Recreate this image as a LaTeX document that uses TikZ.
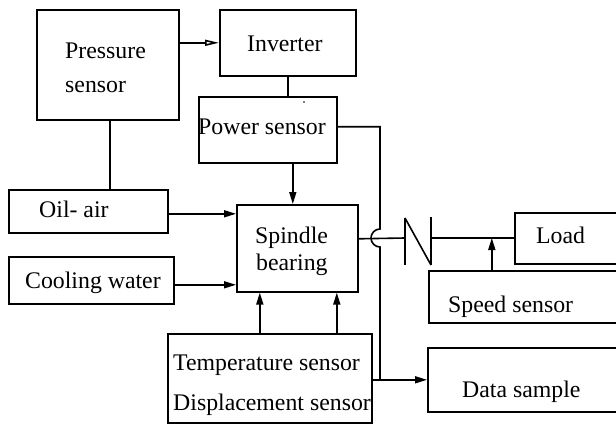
\documentclass[tikz,border=0pt]{standalone}
\usepackage{fontspec}
\setmainfont{Liberation Serif}
\usetikzlibrary{arrows.meta,calc}
\begin{document}
\begin{tikzpicture}[x=1pt,y=-1pt,
  box/.style={draw, line width=1.6pt, inner sep=0pt, anchor=north west},
  lbl/.style={inner sep=0pt, anchor=base west, font=\fontsize{23.8}{28}\selectfont},
  ln/.style={line width=1.6pt},
  arr/.style={ln, -{Triangle[length=12pt,width=7pt]}},
  oarr/.style={ln, -{Triangle[open,length=14pt,width=6pt]}}]
\clip (0,0) rectangle (616,425);
\fill[white] (0,0) rectangle (616,425);
% boxes
\node[box, minimum width=142pt, minimum height=110pt] (ps) at (36,9) {};
\node[box, minimum width=136pt, minimum height=66pt] (inv) at (219,9) {};
\node[box, minimum width=138pt, minimum height=66pt] (pow) at (198,96) {};
\node[box, minimum width=159pt, minimum height=43pt] (oil) at (8,189) {};
\node[box, minimum width=165pt, minimum height=47pt] (cool) at (8,256) {};
\node[box, minimum width=121pt, minimum height=87pt] (sp) at (236,204) {};
\node[box, minimum width=204pt, minimum height=89pt] (temp) at (167,333) {};
\node[box, minimum width=110pt, minimum height=51pt] (load) at (514,212) {};
\node[box, minimum width=196pt, minimum height=52pt] (speed) at (428,270) {};
\node[box, minimum width=197pt, minimum height=64pt] (data) at (427,347) {};
% texts
\node[lbl] (tps1) at (65,59) {Pressure};
\node[lbl] (tps2) at (65,93) {sensor};
\node[lbl] (tinv) at (247,52) {Inverter};
\node[lbl] (tpow) at (198,135) {Power sensor};
\node[lbl] (toil) at (39,217) {Oil- air};
\node[lbl] (tcool) at (25,288) {Cooling water};
\node[lbl] (tsp1) at (255,243) {Spindle};
\node[lbl] (tsp2) at (256,270) {bearing};
\node[lbl] (ttemp1) at (173,370) {Temperature sensor};
\node[lbl] (ttemp2) at (173,410) {Displacement sensor};
\node[lbl] (tload) at (536,243) {Load};
\node[lbl] (tspeed) at (448,312) {Speed sensor};
\node[lbl] (tdata) at (462,397) {Data sample};
\fill (304,102) circle (0.9pt);
% coordinates
\coordinate (hopT) at (380,229);
\coordinate (cLt) at (405,218);
\coordinate (cLb) at (405,265);
\coordinate (cL) at (405,238);
\coordinate (cRt) at (431,217);
\coordinate (cRb) at (431,265);
\coordinate (cR) at (431,238);
% connectors
\draw[oarr] (ps.east |- inv.west) -- (inv.west);
\draw[ln] (inv.south) -- (inv.south |- pow.north);
\draw[ln] ([xshift=2pt]ps.south) -- ([xshift=2pt]ps.south |- oil.north);
\draw[arr] ([xshift=-4.5pt]sp.north |- pow.south) -- ([xshift=-4.5pt]sp.north);
\draw[arr] ([yshift=-2.5pt]oil.east) -- ([yshift=-2.5pt]oil.east -| sp.west);
\draw[arr] ([yshift=-4.5pt]cool.east) -- ([yshift=-4.5pt]cool.east -| sp.west);
\draw[arr] ([xshift=-10pt]temp.north) -- ([xshift=-10pt]temp.north |- sp.south);
\draw[arr] ([xshift=67pt]temp.north) -- ([xshift=67pt]temp.north |- sp.south);
\draw[ln] ([yshift=3pt]pow.east) -| (hopT) arc[start angle=90, end angle=270, radius=9pt] -- (hopT |- data.west);
\draw[arr] (temp.east |- data.west) -- (data.west);
\draw[ln] ([yshift=9.5pt]sp.east) -- (cL);
\draw[ln] (cLt) -- (cLb);
\draw[ln] (cLt) -- (cRb);
\draw[ln] (cRt) -- (cRb);
\draw[ln] (cR) -- (cR -| load.west);
\draw[arr] ([xshift=-35pt]speed.north) -- ([xshift=-35pt]speed.north |- cR);
\end{tikzpicture}
\end{document}
